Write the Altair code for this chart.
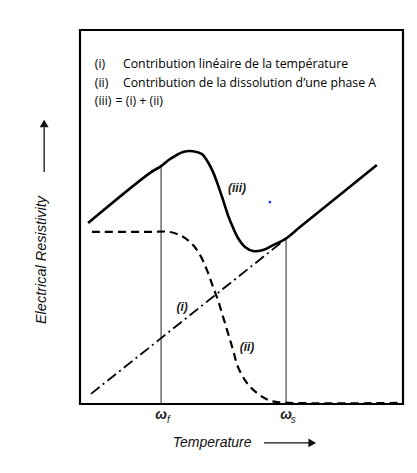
import altair as alt
import pandas as pd

# ---- data (arbitrary units: temperature 0-100, resistivity 0-100) ----
iii_t = [2.5, 21.7, 25.1, 27.9, 31.9, 35.0, 37.8, 39.6, 41.2, 42.7, 44.3, 45.8, 47.4, 48.9, 51.1, 53.6, 56.7, 59.8, 63.5, 68.1, 91.9]
iii_r = [48.4, 61.8, 63.6, 65.5, 67.4, 67.6, 66.8, 64.7, 62.0, 58.6, 54.5, 50.5, 47.1, 44.4, 42.0, 40.9, 41.2, 42.5, 44.1, 47.3, 63.9]

ii_t = [3.7, 21.7, 27.9, 31.9, 35.0, 37.2, 39.3, 41.2, 42.7, 44.3, 45.8, 47.4, 48.9, 51.7, 54.8, 58.2, 61.0, 100.0]
ii_r = [46.0, 46.0, 46.0, 44.7, 42.5, 39.8, 35.8, 31.3, 27.8, 23.3, 19.0, 14.4, 9.9, 5.6, 2.9, 1.1, 0.5, 0.3]

i_t = [3.4, 62.5]
i_r = [2.7, 43.3]

w_names = ["ω", "ω"]
w_subs = ["f", "s"]
w_t = [25.1, 63.8]
w_top = [63.6, 44.4]

legend_keys = ["(i)", "(ii)", "(iii)"]
legend_texts = ["Contribution linéaire de la température",
                "Contribution de la dissolution d\u2019une phase A",
                "= (i) + (ii)"]
legend_r = [91.0, 85.8, 81.0]
legend_text_t = [13.3, 13.3, 11.0]

curve_labels = ["(iii)", "(i)", "(ii)"]
curve_label_t = [48.6, 31.6, 51.7]
curve_label_r = [57.8, 25.9, 15.2]

dot_t = [58.8]
dot_r = [54.0]

x_title = "Temperature"
y_title = "Electrical Resistivity"

# ---- scales ----
xs = alt.Scale(domain=[0, 100], nice=False, zero=False)
ys = alt.Scale(domain=[0, 100], nice=False, zero=False)
X = lambda f: alt.X(f, type="quantitative", scale=xs, axis=None)
Y = lambda f: alt.Y(f, type="quantitative", scale=ys, axis=None)

df_iii = pd.DataFrame({"t": iii_t, "r": iii_r})
df_ii = pd.DataFrame({"t": ii_t, "r": ii_r})
df_i = pd.DataFrame({"t": i_t, "r": i_r})
df_w = pd.DataFrame({"t": w_t, "top": w_top, "zero": [0, 0], "name": w_names, "sub": w_subs,
                     "lab_r": [-3.0, -3.0], "sub_r": [-4.3, -4.3],
                     "sub_t": [w_t[0] + 2.3, w_t[1] + 2.2]})
df_leg = pd.DataFrame({"key": legend_keys, "text": legend_texts, "r": legend_r,
                       "key_t": [4.6, 4.6, 4.6], "text_t": legend_text_t})
df_cl = pd.DataFrame({"lab": curve_labels, "t": curve_label_t, "r": curve_label_r})
df_dot = pd.DataFrame({"t": dot_t, "r": dot_r})

verts = alt.Chart(df_w).mark_rule(color="#222", strokeWidth=1).encode(
    x=X("t"), y=Y("zero"), y2="top")

line_i = alt.Chart(df_i).mark_line(color="black", strokeWidth=1.8,
                                   strokeDash=[11, 4, 2, 4]).encode(x=X("t"), y=Y("r"))
line_ii = alt.Chart(df_ii).mark_line(color="black", strokeWidth=2.2, strokeDash=[8, 5],
                                     interpolate="catmull-rom").encode(x=X("t"), y=Y("r"))
line_iii = alt.Chart(df_iii).mark_line(color="black", strokeWidth=2.6,
                                       interpolate="catmull-rom").encode(x=X("t"), y=Y("r"))

leg_key = alt.Chart(df_leg).mark_text(align="left", baseline="middle", font="Open Sans",
                                      fontSize=12.3, color="black").encode(
    x=X("key_t"), y=Y("r"), text="key")
leg_txt = alt.Chart(df_leg).mark_text(align="left", baseline="middle", font="Open Sans",
                                      fontSize=12.3, color="black").encode(
    x=X("text_t"), y=Y("r"), text="text")

clabels = alt.Chart(df_cl).mark_text(align="center", baseline="middle", font="Liberation Sans",
                                     fontStyle="italic", fontWeight="bold", fontSize=12,
                                     color="#222").encode(x=X("t"), y=Y("r"), text="lab")

dot = alt.Chart(df_dot).mark_point(filled=True, color="#2233ff", size=8, opacity=1).encode(
    x=X("t"), y=Y("r"))

w_lab = alt.Chart(df_w).mark_text(align="center", baseline="middle", font="Liberation Sans",
                                  fontStyle="italic", fontWeight="bold", fontSize=14,
                                  color="#222").encode(x=X("t"), y=Y("lab_r"), text="name")
w_sub = alt.Chart(df_w).mark_text(align="center", baseline="middle", font="Liberation Sans",
                                  fontStyle="italic", fontSize=10, color="#222").encode(
    x=X("sub_t"), y=Y("sub_r"), text="sub")

df_xt = pd.DataFrame({"t": [40.9], "r": [-10.4], "lab": [x_title]})
x_lab = alt.Chart(df_xt).mark_text(align="center", baseline="middle", font="Liberation Sans",
                                   fontStyle="italic", fontSize=14, color="#111").encode(
    x=X("t"), y=Y("r"), text="lab")
df_xa = pd.DataFrame({"t": [57.0], "t2": [71.0], "th": [71.9], "r": [-10.4]})
x_arrow = alt.Chart(df_xa).mark_rule(color="#111", strokeWidth=1.3).encode(
    x=X("t"), x2="t2", y=Y("r"))
x_head = alt.Chart(df_xa).mark_point(shape="triangle-right", filled=True, color="#111",
                                     size=80, opacity=1).encode(x=X("th"), y=Y("r"))

df_yt = pd.DataFrame({"t": [-11.8], "r": [38.5], "lab": [y_title]})
y_lab = alt.Chart(df_yt).mark_text(align="center", baseline="middle", angle=270,
                                   font="Liberation Sans", fontStyle="italic", fontSize=14.5,
                                   color="#111").encode(x=X("t"), y=Y("r"), text="lab")
df_ya = pd.DataFrame({"t": [-11.1], "r": [62.0], "r2": [74.0], "rh": [75.0]})
y_arrow = alt.Chart(df_ya).mark_rule(color="#111", strokeWidth=1.3).encode(
    x=X("t"), y=Y("r"), y2="r2")
y_head = alt.Chart(df_ya).mark_point(shape="triangle-up", filled=True, color="#111",
                                     size=80, opacity=1).encode(x=X("t"), y=Y("rh"))

chart = alt.layer(
    verts, line_i, line_ii, line_iii, leg_key, leg_txt, clabels, dot,
    w_lab, w_sub, x_lab, x_arrow, x_head, y_lab, y_arrow, y_head
).properties(
    width=323, height=374,
    padding={"left": 72, "top": 22, "right": 6, "bottom": 61},
    autosize=alt.AutoSizeParams(type="none"),
    background="white",
).configure_view(stroke="black", strokeWidth=2.2)

chart.save("out.html", embed_options={"renderer": "svg", "actions": False})
